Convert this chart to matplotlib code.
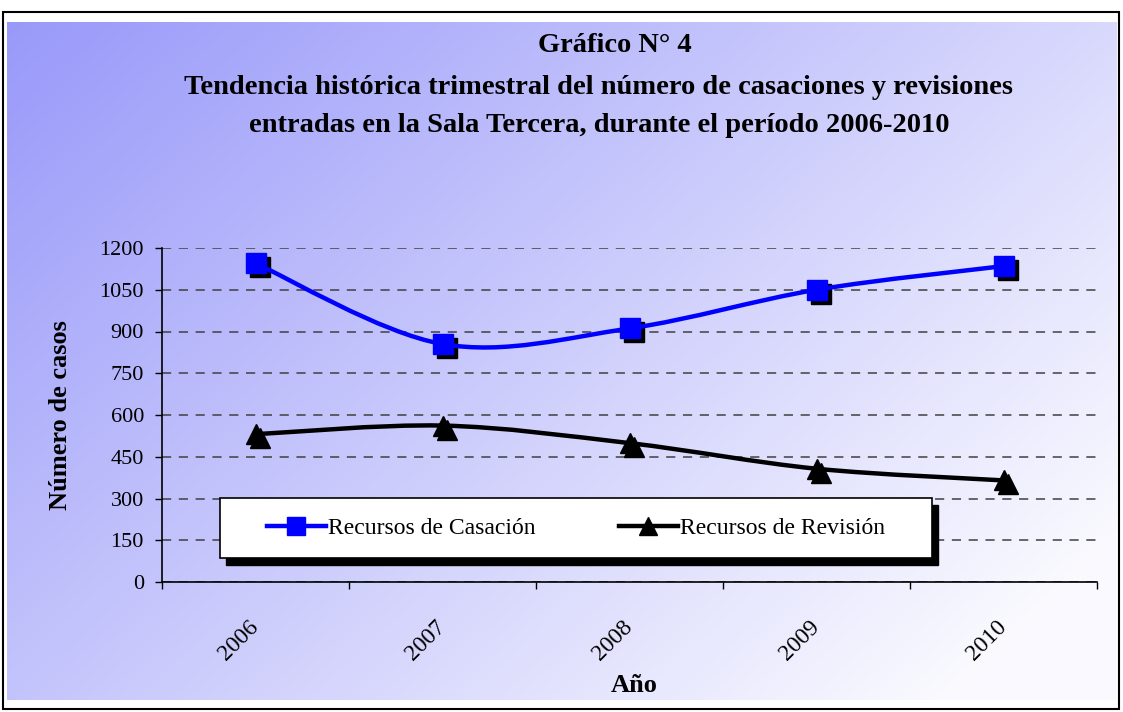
import matplotlib
matplotlib.use("Agg")
import matplotlib.pyplot as plt  # noqa: E402
import matplotlib.transforms as mtransforms  # noqa: E402
from matplotlib.patches import Rectangle, PathPatch  # noqa: E402
from matplotlib.path import Path  # noqa: E402
import numpy as np  # noqa: E402

# data
years = ["2006", "2007", "2008", "2009", "2010"]
casacion = [1145, 855, 911, 1050, 1135]
revision = [531, 562, 499, 407, 365]
yticks = [0, 150, 300, 450, 600, 750, 900, 1050, 1200]

SERIF = "Liberation Serif"
plt.rcParams["font.family"] = SERIF

W, H = 1123, 712


def smooth_path(xs, ys):
    """Excel-like smoothed line: cubic bezier through the points."""
    pts = np.column_stack([xs, ys]).astype(float)
    n = len(pts)
    verts = [pts[0]]
    codes = [Path.MOVETO]
    for i in range(n - 1):
        p_prev = pts[i - 1] if i > 0 else pts[i]
        p_next2 = pts[i + 2] if i + 2 < n else pts[i + 1]
        c1 = pts[i] + (pts[i + 1] - p_prev) / 6
        c2 = pts[i + 1] - (p_next2 - pts[i]) / 6
        verts += [c1, c2, pts[i + 1]]
        codes += [Path.CURVE4] * 3
    return Path(verts, codes)


fig = plt.figure(figsize=(W / 100, H / 100), dpi=100)

# background panel with gradient and frame
bg = fig.add_axes([0, 0, 1, 1], zorder=0)
bg.set_xlim(0, W)
bg.set_ylim(H, 0)
bg.axis("off")
gx, gy = np.meshgrid(np.linspace(0, 1, 300), np.linspace(0, 1, 200))
t = np.clip(0.66 * gx + 0.44 * gy, 0, 1)
c0 = np.array([0.60, 0.60, 0.98])
c1 = np.array([0.98, 0.98, 1.0])
img = c0[None, None, :] * (1 - t[..., None]) + c1[None, None, :] * t[..., None]
bg.imshow(img, extent=(7, 1117, 700, 22), aspect="auto", interpolation="bilinear")
bg.add_patch(Rectangle((3, 12), 1116, 697, fill=False, edgecolor="black", lw=1.5))

bg.text(615, 46, "Gráfico N° 4", ha="center", va="center", fontsize=20.5, fontweight="bold")
bg.text(599, 87, "Tendencia histórica trimestral del número de casaciones y revisiones",
        ha="center", va="center", fontsize=20.5, fontweight="bold")
bg.text(599, 126, "entradas en la Sala Tercera, durante el período 2006-2010",
        ha="center", va="center", fontsize=20.5, fontweight="bold")

ax = fig.add_axes([162 / W, 1 - 582 / H, (1097 - 162) / W, (582 - 248) / H], zorder=1)
ax.set_facecolor("none")
ax.set_xlim(0, 5)
ax.set_ylim(0, 1200)
x = np.arange(len(years)) + 0.5

shadow = mtransforms.offset_copy(ax.transData, fig=fig, x=4, y=-4, units="dots")

ax.add_patch(PathPatch(smooth_path(x, casacion), fill=False, edgecolor="#0000FF", lw=3.2,
                       capstyle="round", joinstyle="round", zorder=3))
ax.add_patch(PathPatch(smooth_path(x, revision), fill=False, edgecolor="black", lw=3.2,
                       capstyle="round", joinstyle="round", zorder=3))
ax.plot(x, casacion, ls="none", marker="s", ms=14.5, color="black", transform=shadow, zorder=2)
ax.plot(x, casacion, ls="none", marker="s", ms=14.5, color="#0000FF", zorder=4)
ax.plot(x, revision, ls="none", marker="^", ms=14.5, color="black", transform=shadow, zorder=2)
ax.plot(x, revision, ls="none", marker="^", ms=14.5, color="black", zorder=4)

ax.set_yticks(yticks)
ax.set_yticklabels([str(v) for v in yticks], fontsize=16)
ax.yaxis.grid(True, ls=(0, (6, 5)), color="#404040", lw=1.1)
ax.set_axisbelow(True)
ax.tick_params(axis="y", direction="out", length=5, width=1, pad=8)

ax.set_xticks(range(6))
ax.set_xticklabels([])
ax.set_xticks(x, minor=True)
ax.set_xticklabels(years, minor=True, fontsize=17, rotation=45, ha="right", va="center",
                   rotation_mode="anchor")
ax.tick_params(axis="x", which="major", direction="out", length=5, width=1)
ax.tick_params(axis="x", which="minor", length=0, pad=30)
for side in ("top", "right"):
    ax.spines[side].set_visible(False)
for side in ("left", "bottom"):
    ax.spines[side].set_linewidth(1.2)

ax.set_ylabel("Número de casos", fontsize=19, fontweight="bold", labelpad=20)
fig.text(634 / W, 1 - 686 / H, "Año", ha="center", va="center", fontsize=19, fontweight="bold")

# legend box with solid shadow
lx0, lx1 = (220 - 162) / 935, (932 - 162) / 935
ly0, ly1 = (582 - 558) / 334, (582 - 498) / 334
box_shadow = mtransforms.offset_copy(ax.transAxes, fig=fig, x=6, y=-7, units="dots")
ax.add_patch(Rectangle((lx0, ly0), lx1 - lx0, ly1 - ly0, transform=box_shadow,
                       facecolor="black", edgecolor="black", zorder=5, clip_on=False))
ax.add_patch(Rectangle((lx0, ly0), lx1 - lx0, ly1 - ly0, transform=ax.transAxes,
                       facecolor="white", edgecolor="black", lw=1.2, zorder=6, clip_on=False))
h1, = ax.plot([], [], color="#0000FF", lw=3.2, marker="s", ms=13)
h2, = ax.plot([], [], color="black", lw=3.2, marker="^", ms=13)
leg = ax.legend([h1, h2], ["Recursos de Casación", "Recursos de Revisión"], ncol=2,
                loc="center", bbox_to_anchor=((lx0 + lx1) / 2, (ly0 + ly1) / 2),
                frameon=False, fontsize=17, handlelength=2.5, handletextpad=0.12,
                columnspacing=3.5)
leg.set_zorder(7)

fig.savefig("out.png", dpi=100)
